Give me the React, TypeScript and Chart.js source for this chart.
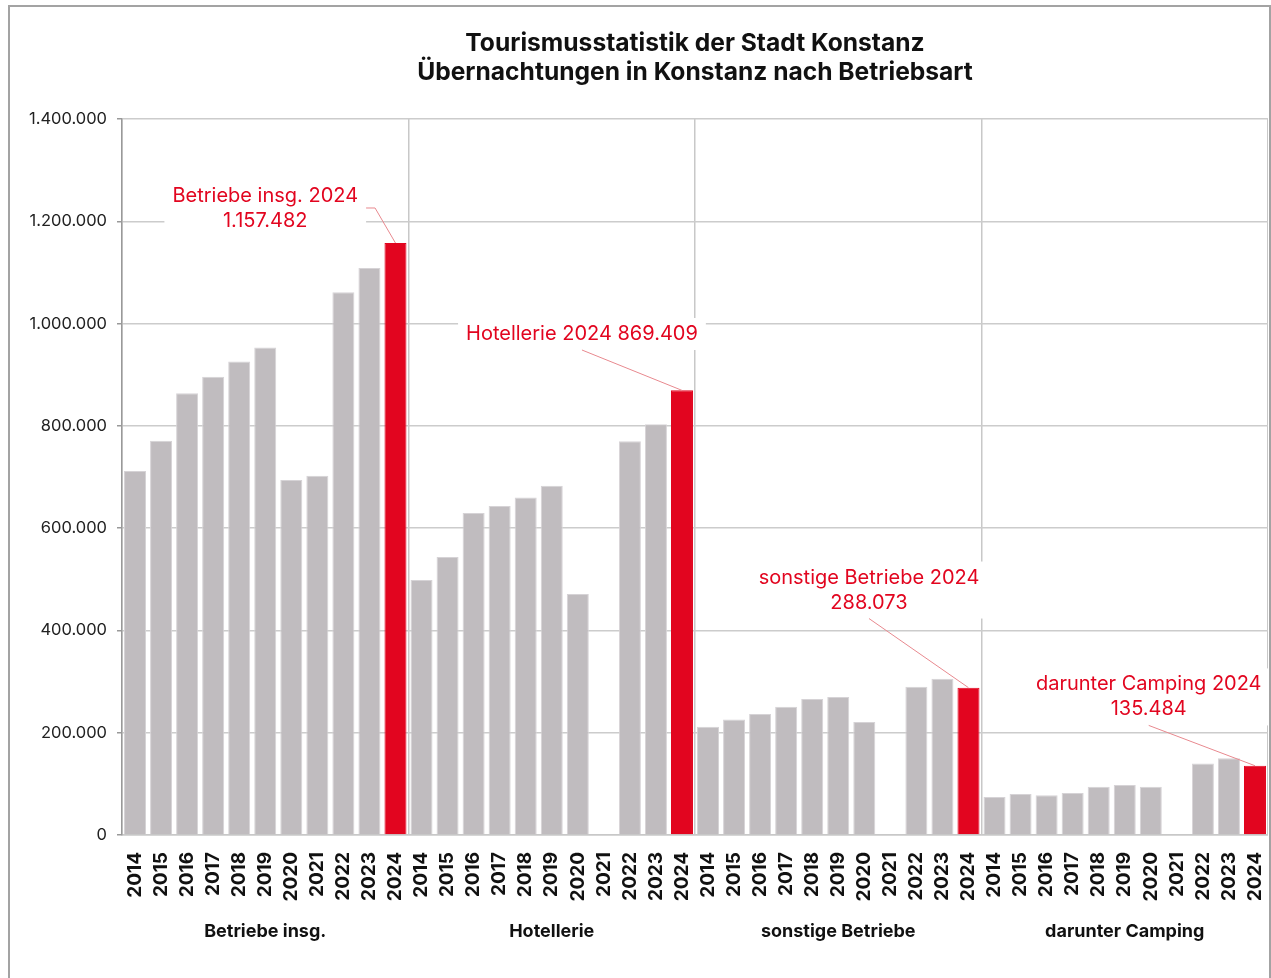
import React, { useEffect, useRef } from "react";
import { Chart, registerables } from "chart.js";

Chart.register(...registerables);

const years = ["2014", "2015", "2016", "2017", "2018", "2019", "2020", "2021", "2022", "2023", "2024"];
const groups = ["Betriebe insg.", "Hotellerie", "sonstige Betriebe", "darunter Camping"];

const betriebeInsg = [711700, 771000, 864000, 896000, 926000, 953000, 694000, 702600, 1061000, 1108700, 1157482];
const hotellerie = [498600, 543600, 629600, 643300, 660000, 683000, 471000, null, 770000, 803000, 869409];
const sonstigeBetriebe = [211800, 226000, 236600, 251000, 266000, 270000, 221000, null, 290000, 305700, 288073];
const campingBetriebe = [74300, 80000, 77600, 82000, 94500, 97800, 94500, null, 140000, 150000, 135484];

const titleLines = ["Tourismusstatistik der Stadt Konstanz", "Übernachtungen in Konstanz nach Betriebsart"];

const annotationTexts = [
  ["Betriebe insg. 2024", "1.157.482"],
  ["Hotellerie 2024 869.409"],
  ["sonstige Betriebe 2024", "288.073"],
  ["darunter Camping 2024", "135.484"],
];
// label centre in data coordinates (category position, value) and the bar it points to
const annotationAnchorX = [5, 17.16, 28.18, 38.92];
const annotationAnchorY = [1226000, 979600, 479000, 270000];
const annotationTargets = [10, 21, 32, 43];
const annotationLeaderSide = ["right", "bottom", "bottom", "bottom"];

const yTicksMax = 1400000;
const yTicksStep = 200000;

const GRAY = "#c0bcbf";
const RED = "#e2051f";

const labels = [...years, ...years, ...years, ...years];
const values = [...betriebeInsg, ...hotellerie, ...sonstigeBetriebe, ...campingBetriebe];

function fmt(v: number) {
  return String(Math.round(v)).replace(/\B(?=(\d{3})+(?!\d))/g, ".");
}

const overlayPlugin = {
  id: "overlay",
  afterDatasetsDraw(chart: any) {
    const { ctx, scales } = chart;
    const xs = scales.x;
    const ys = scales.y;
    ctx.save();
    ctx.font = "20px Inter";
    const lh = 25;
    annotationTexts.forEach((lines, i) => {
      const cx = xs.getPixelForValue(annotationAnchorX[i]);
      const cy = ys.getPixelForValue(annotationAnchorY[i]);
      const w = Math.max(...lines.map((l) => ctx.measureText(l).width)) + 16;
      const h = lines.length * lh + 7;
      const bx = cx - w / 2;
      const by = cy - h / 2;
      ctx.fillStyle = "#ffffff";
      ctx.fillRect(bx, by, w, h);
      ctx.fillStyle = RED;
      ctx.textAlign = "center";
      ctx.textBaseline = "middle";
      lines.forEach((l, k) => {
        ctx.fillText(l, cx, cy - ((lines.length - 1) * lh) / 2 + k * lh);
      });
      const t = annotationTargets[i];
      const tx = xs.getPixelForValue(t);
      const ty = ys.getPixelForValue(values[t] as number);
      ctx.strokeStyle = "#e8898f";
      ctx.lineWidth = 1;
      ctx.beginPath();
      if (annotationLeaderSide[i] === "right") {
        ctx.moveTo(bx + w, cy);
        ctx.lineTo(bx + w + 9, cy);
      } else {
        ctx.moveTo(cx, by + h);
      }
      ctx.lineTo(tx, ty);
      ctx.stroke();
    });
    ctx.restore();
  },
  afterDraw(chart: any) {
    const { ctx, chartArea, scales } = chart;
    const xs = scales.x;
    ctx.save();
    ctx.fillStyle = "#111111";
    ctx.textAlign = "center";
    ctx.textBaseline = "middle";
    ctx.font = "bold 24.6px Inter";
    const mid = (chartArea.left + chartArea.right) / 2;
    ctx.fillText(titleLines[0], mid, 37);
    ctx.fillText(titleLines[1], mid, 66);
    ctx.font = "bold 18px Inter";
    groups.forEach((g, i) => {
      const x = xs.getPixelForValue(i * years.length + (years.length - 1) / 2);
      ctx.fillText(g, x, chartArea.bottom + 97);
    });
    ctx.restore();
  },
};

export default function App() {
  const ref = useRef<HTMLCanvasElement | null>(null);
  useEffect(() => {
    if (!ref.current) return;
    const chart = new Chart(ref.current, {
      type: "bar",
      data: {
        labels,
        datasets: [
          {
            data: values,
            backgroundColor: values.map((_, i) => (i % years.length === years.length - 1 ? RED : GRAY)),
            borderColor: values.map((_, i) => (i % years.length === years.length - 1 ? RED : "#d6d3d6")),
            borderWidth: 1,
            barPercentage: 0.845,
            categoryPercentage: 1,
          },
        ],
      },
      options: {
        responsive: false,
        animation: false,
        devicePixelRatio: 1,
        layout: { padding: { top: 112, bottom: 50, left: 0, right: 0 } },
        plugins: { legend: { display: false }, tooltip: { enabled: false }, title: { display: false } },
        scales: {
          x: {
            offset: true,
            ticks: {
              autoSkip: false,
              maxRotation: 90,
              minRotation: 90,
              padding: 17,
              color: "#111111",
              font: { family: "Inter", size: 19, weight: "bold" },
            },
            grid: {
              offset: true,
              drawTicks: false,
              lineWidth: 1.5,
              color: (c: any) =>
                c.index === undefined || c.index % years.length === 0 ? "#c8c8c8" : "rgba(0,0,0,0)",
            },
            border: { color: "#c8c8c8", width: 1.5 },
            afterFit: (s: any) => {
              s.height = 70;
              s.paddingLeft = 0;
              s.paddingRight = 0;
            },
          },
          y: {
            min: 0,
            max: yTicksMax,
            ticks: {
              stepSize: yTicksStep,
              padding: 10,
              color: "#222222",
              font: { family: "Inter", size: 16.5 },
              callback: (v: any) => fmt(Number(v)),
            },
            grid: { color: "#cccccc", lineWidth: 1.5, tickLength: 5, tickColor: "#999999" },
            border: { color: "#999999", width: 1.5 },
            afterFit: (s: any) => {
              s.width = 112;
            },
          },
        },
      },
      plugins: [overlayPlugin],
    });
    return () => chart.destroy();
  }, []);

  return (
    <div
      style={{
        position: "absolute",
        left: 8,
        top: 5,
        width: 1263,
        height: 973,
        boxSizing: "border-box",
        borderTop: "2px solid #a3a3a3",
        borderLeft: "2px solid #a3a3a3",
        borderRight: "2px solid #a3a3a3",
        background: "#ffffff",
      }}
    >
      <canvas ref={ref} width={1258} height={948} style={{ position: "absolute", left: 0, top: 0 }} />
    </div>
  );
}
